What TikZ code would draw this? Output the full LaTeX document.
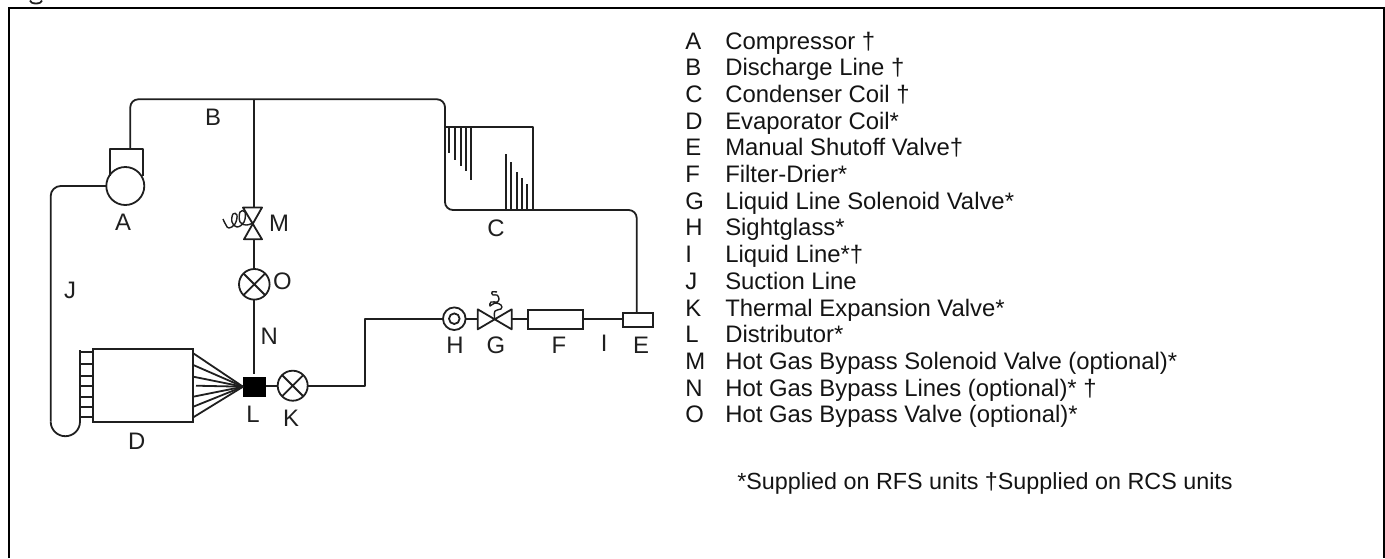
\documentclass[tikz,border=0pt]{standalone}
\usepackage{fontspec}
\setmainfont{Liberation Sans}
\def\px{0.75pt}
\tikzset{
  x=0.75pt,y=-0.75pt,
  pipe/.style={draw=black!88,line width=1.8*\px,line join=round},
  frameline/.style={draw=black,line width=2.6*\px},
  ring/.style={circle,draw=black!88,line width=1.8*\px,inner sep=0pt,outer sep=0pt,minimum size=#1*\px},
  box/.style 2 args={rectangle,draw=black!88,line width=1.8*\px,inner sep=0pt,outer sep=0pt,minimum width=#1*\px,minimum height=#2*\px},
  lab/.style={font=\fontsize{17.9pt}{17.9pt}\selectfont,text=black!88,inner sep=0pt},
  legend/.style={font=\fontsize{17.9pt}{17.9pt}\selectfont,text=black!92,inner sep=0pt,anchor=base west},
}
\begin{document}
\begin{tikzpicture}
\useasboundingbox (0,0) rectangle (1385,558);
% frame
\draw[frameline] (9,558) -- (9,8) -- (1384,8) -- (1384,558);
\draw[pipe] (30,0.5) arc[start angle=180,end angle=360,x radius=6,y radius=-3];
% compressor
\node[ring=38,fill=white] (A) at (125.3,186) {};
\coordinate (boxTL) at (110,148.7);
\coordinate (boxTR) at (142.7,148.7);
\coordinate (boxBL) at (110,176);
\coordinate (boxBR) at (142.7,176);
\draw[pipe] (boxBL) -- (boxTL) -- (boxTR) -- (boxBR);
\coordinate (dis) at (130.3,148.7);
% condenser
\coordinate (topR) at (445,99.3);
\coordinate (cTL) at (445,127);
\coordinate (cTR) at (533.3,127);
\coordinate (cBR) at (533.3,210);
\coordinate (cBL) at (445,210);
\coordinate (condOut) at (636.7,210);
\node[box={30.6}{13.7}] (E) at (638,320.2) {};
\coordinate (Etop) at (636.7,312);
\draw[pipe,rounded corners=8*\px] (dis) -- (130.3,99.3) -- (topR) -- (cBL) -- (condOut) -- (Etop);
\draw[pipe] (cTL) -- (cTR) -- (cBR);
\foreach \x/\y in {449/152.7,455/160,461/165.7,466/170.7,471/180}
  \draw[pipe] (\x,127) -- (\x,\y);
\foreach \x/\y in {505.7/154.3,510.7/162.3,516.7/171.7,521.7/178.3,527/184}
  \draw[pipe] (\x,210) -- (\x,\y);
% bypass
\coordinate (tee) at (254.3,99.3);
\coordinate (Mtop) at (254.3,207.5);
\coordinate (Mbot) at (254.3,239.3);
\draw[pipe] (tee) -- (Mtop);
\draw[pipe] (243,207.5) -- (262,207.5) -- (244,239.3) -- (262,239.3) -- cycle;
\draw[pipe,line width=1.4*\px] plot[smooth,tension=.7] coordinates {(253,223)(246,225)(240,222)(240,212)(245,212)(244,222)(237,227)(232,222)(233,214)(237,215)(235,224)(229,228)(226,225)(223,219)};
\node[ring=30.6] (O) at (254.3,284.3) {};
\draw[pipe] (O.north east) -- (O.south west) (O.north west) -- (O.south east);
\draw[pipe] (Mbot) -- (O.north);
% distributor & K
\node[rectangle,fill=black,inner sep=0pt,minimum width=22.4*\px,minimum height=20*\px] (L) at (254.5,386.7) {};
\coordinate (Ltop) at (254.3,374);
\draw[pipe] (O.south) -- (Ltop);
\node[ring=30] (K) at (292.7,385.7) {};
\draw[pipe] (K.north east) -- (K.south west) (K.north west) -- (K.south east);
\draw[pipe] (L.east |- K.west) -- (K.west);
% evaporator
\node[box={100}{73}] (D) at (143.3,385.8) {};
\foreach \a in {353.3,365,376.7,396.7,406.7,417.3}
  \draw[pipe] (193.3,\a) -- (L.west);
\draw[pipe] (196,385.7) -- (L.west);
\foreach \y in {352.3,364,375.7,385.7,397.3,407.3,416.7}
  \draw[pipe] (80,\y) -- (93.3,\y);
% suction
\coordinate (sucTop) at (50.7,186);
\coordinate (sucBot) at (50.7,421.7);
\coordinate (hdrTop) at (80,350);
\draw[pipe,rounded corners=10*\px] (A.west) -- (sucTop) -- (sucBot);
\draw[pipe] (sucBot) arc[start angle=180,end angle=360,x radius=14.65,y radius=-14.5] -- (hdrTop);
% liquid line
\node[ring=22.6] (H) at (454.3,318.7) {};
\node[ring=10.6] (Hi) at (454.3,318.7) {};
\coordinate (Gc) at (494.7,318.7);
\coordinate (Gl) at (477.7,318.7);
\coordinate (Gr) at (511.7,318.7);
\draw[pipe] (Gl |- 0,309.3) -- (Gr |- 0,329.3) -- (Gr |- 0,309.3) -- (Gl |- 0,329.3) -- cycle;
\draw[pipe,line width=1.4*\px] plot[smooth,tension=.7] coordinates {(Gc)(495,311)(501,309)(501,305)(495,303)(490,306)(491,302)(497,302)(499,299)(497,295)(493,295)(492,292)(497,292)};
\node[box={55}{19.3}] (F) at (555.8,319.6) {};
\coordinate (liqCorner) at (365,385.7);
\coordinate (liqUp) at (365,318.7);
\draw[pipe] (K.east) -- (liqCorner) -- (liqUp) -- (H.west);
\draw[pipe] (H.east) -- (Gl);
\draw[pipe] (Gr) -- (F.west |- Gr);
\draw[pipe] (F.east |- Gr) -- (E.west |- Gr);
% labels
\node[lab] (lA) at (123,222) {A};
\node[lab] (lB) at (213,117) {B};
\node[lab] (lC) at (496,228) {C};
\node[lab] (lD) at (136.7,441) {D};
\node[lab] (lE) at (641,345) {E};
\node[lab] (lF) at (559,345) {F};
\node[lab] (lG) at (496,345) {G};
\node[lab] (lH) at (455,345) {H};
\node[lab] (lI) at (604.3,343) {I};
\node[lab] (lJ) at (70,290) {J};
\node[lab] (lK) at (291,418) {K};
\node[lab] (lL) at (253,414) {L};
\node[lab] (lM) at (279,223) {M};
\node[lab] (lN) at (269.3,336) {N};
\node[lab] (lO) at (282.3,281) {O};
% legend
\foreach \l/\t [count=\i from 0] in {
  A/{Compressor †},
  B/{Discharge Line †},
  C/{Condenser Coil †},
  D/{Evaporator Coil*},
  E/{Manual Shutoff Valve†},
  F/{Filter-Drier*},
  G/{Liquid Line Solenoid Valve*},
  H/{Sightglass*},
  I/{Liquid Line*†},
  J/{Suction Line},
  K/{Thermal Expansion Valve*},
  L/{Distributor*},
  M/{Hot Gas Bypass Solenoid Valve (optional)*},
  N/{Hot Gas Bypass Lines (optional)* †},
  O/{Hot Gas Bypass Valve (optional)*}}{
  \node[legend] (key\l) at (685,{49+26.7*\i}) {\l};
  \node[legend] (txt\l) at (725,{49+26.7*\i}) {\t};
}
\node[legend,font=\fontsize{17.5pt}{17.5pt}\selectfont] (note) at (737,489) {*Supplied on RFS units †Supplied on RCS units};
\end{tikzpicture}
\end{document}
